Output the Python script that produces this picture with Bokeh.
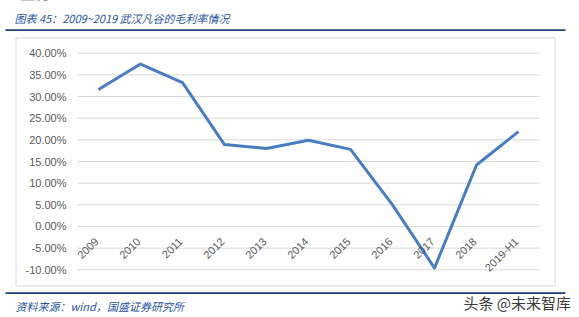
from bokeh.plotting import figure
from bokeh.models import Range1d, ColumnDataSource
from bokeh.core.properties import value
from bokeh.embed import file_html
from bokeh.resources import INLINE
import math

# ---- data ----
categories = ["2009", "2010", "2011", "2012", "2013", "2014", "2015",
              "2016", "2017", "2018", "2019-H1"]
gross_margin = [31.6, 37.5, 33.2, 18.9, 18.0, 19.9, 17.8, 5.0, -9.6, 14.2, 21.9]
y_ticks = [-10, -5, 0, 5, 10, 15, 20, 25, 30, 35, 40]
title_text = "图表 45：2009~2019 武汉凡谷的毛利率情况"
source_text = "资料来源：wind，国盛证券研究所"
watermark_text = "头条 @未来智库"
top_text = "盈利"

NAVY = "#1f3f78"
BLUE_TXT = "#2a55a0"
GRID = "#d9d9d9"
TICK_TXT = "#595959"

W, H = 579, 317
# plot area in canvas pixels
PL, PR, PT, PB = 77.0, 539.0, 52.7, 269.3
n = len(categories)
ymin, ymax = y_ticks[0], y_ticks[-1]
cat_w = (PR - PL) / n
ppu = (PB - PT) / (ymax - ymin)

x_range = Range1d(-PL / cat_w, (W - PL) / cat_w)
y_range = Range1d(ymin - (H - PB) / ppu, ymax + PT / ppu)

p = figure(width=W, height=H, output_backend="svg", toolbar_location=None,
           x_range=x_range, y_range=y_range, x_axis_type=None, y_axis_type=None,
           min_border=0, min_border_left=0, min_border_right=0,
           min_border_top=0, min_border_bottom=0)
p.outline_line_color = None
p.background_fill_color = "white"
p.border_fill_color = "white"
p.grid.visible = False
# pixel coordinate ranges for page decorations (y measured from top)
p.extra_x_ranges = {"px": Range1d(0, W)}
p.extra_y_ranges = {"px": Range1d(H, 0)}

# ---- chart frame box ----
p.quad(left=[15.5], right=[554.5], top=[37.5], bottom=[285.5],
       x_range_name="px", y_range_name="px",
       fill_color="white", line_color=GRID, line_width=1)

# ---- gridlines & y tick labels ----
grid_src = ColumnDataSource(dict(y=y_ticks,
                                 x0=[0] * len(y_ticks), x1=[n] * len(y_ticks),
                                 lab=["%.2f%%" % t for t in y_ticks],
                                 xl=[0] * len(y_ticks)))
p.segment("x0", "y", "x1", "y", source=grid_src, line_color=GRID, line_width=1)
p.text("xl", "y", text="lab", source=grid_src, x_offset=-11,
       text_align="right", text_baseline="middle",
       text_font=value("Liberation Sans"), text_font_size="11px", text_color=TICK_TXT)

# ---- series ----
xs = [i + 0.5 for i in range(n)]
src = ColumnDataSource(dict(x=xs, cat=categories, val=gross_margin, zero=[0] * n))
p.line("x", "val", source=src, line_color="#4a7cc0", line_width=3, line_join="round")

# ---- category labels (rotated) ----
p.text("x", "zero", text="cat", source=src, angle=math.pi / 4,
       text_align="right", text_baseline="middle", x_offset=-2, y_offset=13,
       text_font=value("Liberation Sans"), text_font_size="11px", text_color=TICK_TXT)

# ---- header / footer rules ----
p.segment(x0=[5, 5], y0=[29.6, 292.6], x1=[565, 565], y1=[29.6, 292.6],
          x_range_name="px", y_range_name="px", line_color=NAVY, line_width=1.6)

# ---- texts ----
p.text(x=[14], y=[17], text=[title_text], x_range_name="px", y_range_name="px",
       text_font=value("Noto Sans CJK SC"), text_font_style="italic",
       text_font_size="11px", text_color=BLUE_TXT, text_baseline="middle")
p.text(x=[15], y=[305], text=[source_text], x_range_name="px", y_range_name="px",
       text_font=value("Noto Sans CJK SC"), text_font_style="italic",
       text_font_size="11px", text_color=BLUE_TXT, text_baseline="middle")
p.quad(left=[462], right=[572], top=[293.4], bottom=[312],
       x_range_name="px", y_range_name="px", fill_color="white", line_color=None)
p.text(x=[463], y=[302], text=[watermark_text], x_range_name="px", y_range_name="px",
       text_font=value("Noto Sans CJK SC"), text_font_size="15px", text_color="#3c3c3c",
       text_baseline="middle")
p.text(x=[20], y=[2], text=[top_text], x_range_name="px", y_range_name="px",
       text_font=value("Noto Sans CJK SC"), text_font_style="bold",
       text_font_size="14px", text_color="#222222", text_baseline="bottom")

open("out.html", "w").write(file_html(p, INLINE))
